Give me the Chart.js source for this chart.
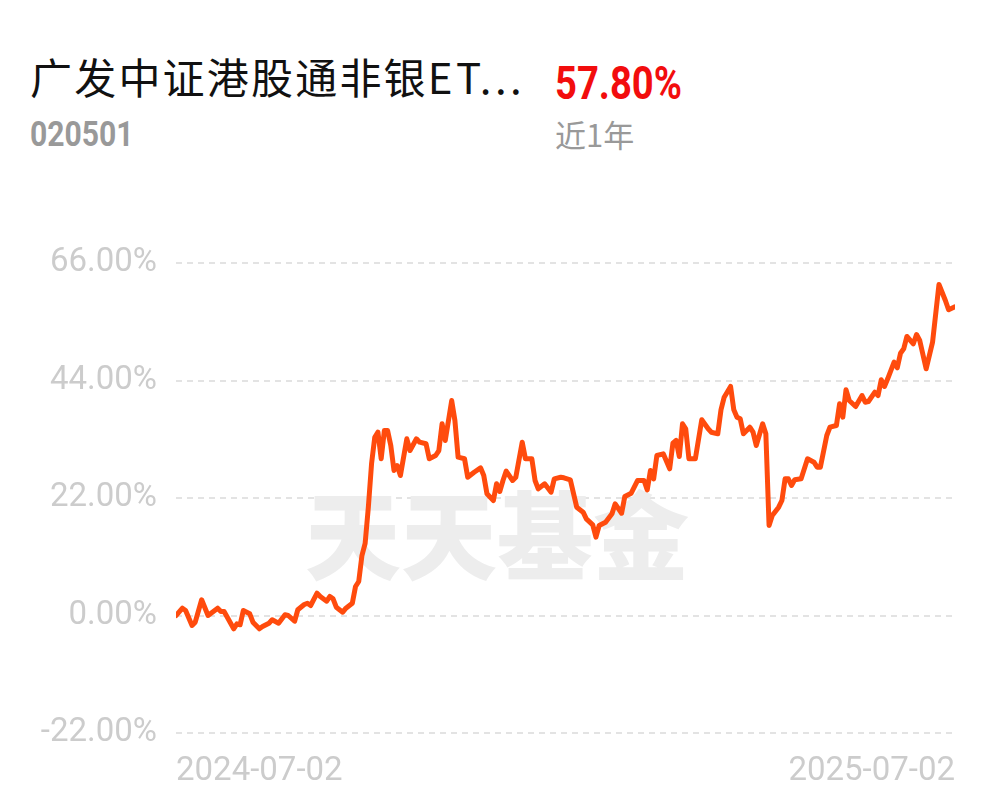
<!DOCTYPE html>
<html>
<head>
<meta charset="utf-8">
<script src="https://cdn.jsdelivr.net/npm/chart.js@4.4.1/dist/chart.umd.min.js"></script>
<style>
  html, body { margin:0; padding:0; background:#fff; width:997px; height:802px; overflow:hidden; }
  .t { position:absolute; white-space:nowrap; line-height:1; transform-origin:left top; }
  #name { left:30px; top:45px; font:400 42px "Noto Sans CJK SC", sans-serif; color:#111; letter-spacing:2.2px; }
  #name span { letter-spacing:3.5px; }
  #ret { left:555px; top:56px; font:700 46px Roboto, sans-serif; color:#f20d0d; transform:scaleX(0.83); }
  #code { left:30px; top:114px; font:700 35px Roboto, sans-serif; color:#999; transform:scaleX(0.86); }
  #period { left:555px; top:111px; font:400 31px "Noto Sans CJK SC", sans-serif; color:#999; }
  #wrap { position:absolute; left:0; top:200px; width:997px; height:602px; }
</style>
</head>
<body>
<div class="t" id="name">广发中证港股通非银<span>ET...</span></div>
<div class="t" id="ret">57.80%</div>
<div class="t" id="code">020501</div>
<div class="t" id="period">近1年</div>
<div id="wrap"><canvas id="c" width="997" height="602"></canvas></div>
<script>
// trading-day index within the one-year window
const days = [0,2,3,5,6,8,10,13,14,15,16,18,19,20,21,23,24,26,27,29,30,32,34,35,37,38,40,41,42,44,45,47,48,49,50,52,53,55,56,57,58,59,60,61,62,63,64,65,66,67,68,69,70,72,73,75,76,78,79,81,82,83,84,86,87,88,90,91,93,95,96,97,99,100,101,102,103,105,106,108,109,111,112,113,115,117,118,120,121,123,125,127,128,130,131,132,134,136,137,139,140,142,144,146,147,148,149,150,152,154,155,156,157,158,159,160,162,164,166,167,169,170,171,173,174,175,176,177,179,180,181,183,184,185,186,188,189,190,191,192,193,195,197,199,200,201,203,204,206,207,208,209,210,212,214,215,216,218,219,220,221,222,224,225,226,227,228,230,231,232,234,236,238,240,241,243];
// cumulative return, %
const returns = [0.00,1.37,0.94,-1.87,-1.25,2.94,0.00,1.37,0.75,0.75,-0.32,-2.49,-1.56,-1.74,0.94,0.32,-1.25,-2.49,-2.06,-1.44,-0.81,-1.44,0.13,0.00,-1.07,1.07,2.06,2.30,1.87,4.18,3.56,2.68,3.56,3.12,1.55,0.62,1.37,2.30,5.43,6.37,11.23,13.50,20.28,28.40,33.38,34.32,29.34,34.64,34.64,31.83,27.15,28.08,26.21,33.08,30.89,33.08,32.45,32.15,29.34,29.96,30.89,35.89,32.77,40.25,36.51,29.64,29.34,25.89,26.83,27.65,26.21,22.79,21.53,24.66,23.22,25.28,27.02,25.28,25.89,32.45,29.34,29.34,25.28,23.72,24.66,23.09,25.59,25.89,25.78,25.41,20.28,19.34,18.10,16.98,14.66,16.85,17.47,19.04,20.91,19.15,22.28,22.90,25.28,25.28,23.53,27.15,25.59,29.96,30.27,27.47,32.26,32.77,29.77,35.89,34.96,29.34,29.34,36.64,34.96,34.32,34.02,38.51,40.87,42.88,38.51,37.13,36.83,34.02,35.26,34.32,31.83,35.89,34.02,16.85,18.72,20.28,21.53,25.59,25.59,24.34,25.41,25.59,29.34,28.70,27.77,27.77,33.70,35.26,35.57,39.64,37.13,42.26,40.25,39.13,41.19,39.94,40.07,41.81,41.19,44.13,42.88,44.32,47.43,46.38,49.11,49.93,52.24,50.87,52.61,51.49,46.19,51.17,61.97,58.98,57.24,57.80];
const startDate = '2024-07-02';
const endDate = '2025-07-02';
const yTicks = [-22, 0, 22, 44, 66];
const watermarkText = '天天基金';

const points = days.map((d, i) => ({ x: d, y: returns[i] }));
const lastDay = days[days.length - 1];

const watermark = {
  id: 'watermark',
  beforeDatasetsDraw(chart) {
    const { ctx, chartArea } = chart;
    ctx.save();
    ctx.font = '900 96px "Noto Sans CJK SC", sans-serif';
    ctx.fillStyle = '#ededed';
    ctx.textAlign = 'center';
    ctx.textBaseline = 'middle';
    ctx.fillText(watermarkText, chartArea.left + (chartArea.right - chartArea.left) * 0.412, chartArea.top + (chartArea.bottom - chartArea.top) * 0.58);
    ctx.restore();
  }
};

new Chart(document.getElementById('c'), {
  type: 'line',
  data: {
    datasets: [{
      data: points,
      borderColor: '#ff4b0d',
      borderWidth: 5,
      pointRadius: 0,
      tension: 0,
      borderJoinStyle: 'round',
      borderCapStyle: 'round',
      fill: false
    }]
  },
  options: {
    responsive: false,
    animation: false,
    events: [],
    layout: { padding: { top: 63, right: 42, bottom: 0, left: 0 } },
    plugins: { legend: { display: false }, tooltip: { enabled: false } },
    scales: {
      x: {
        type: 'linear',
        min: 0,
        max: lastDay,
        afterBuildTicks(scale) { scale.ticks = [{ value: 0 }, { value: lastDay }]; },
        afterFit(scale) { scale.height = 69; },
        grid: { display: false, drawTicks: false },
        border: { display: false },
        ticks: {
          align: 'inner',
          padding: 19,
          maxRotation: 0,
          autoSkip: false,
          color: '#cccccc',
          font: { family: 'Roboto', size: 33 },
          callback: (v) => (v === 0 ? startDate : endDate)
        }
      },
      y: {
        min: -22,
        max: 66,
        afterBuildTicks(scale) { scale.ticks = yTicks.map(v => ({ value: v })); },
        afterFit(scale) { scale.width = 176; },
        grid: { color: '#e3e3e3', lineWidth: 2, drawTicks: false },
        border: { display: false, dash: [6, 5] },
        ticks: {
          padding: 19,
          color: '#cccccc',
          font: { family: 'Roboto', size: 33 },
          callback: (v) => v.toFixed(2) + '%'
        }
      }
    }
  },
  plugins: [watermark]
});
</script>
</body>
</html>
